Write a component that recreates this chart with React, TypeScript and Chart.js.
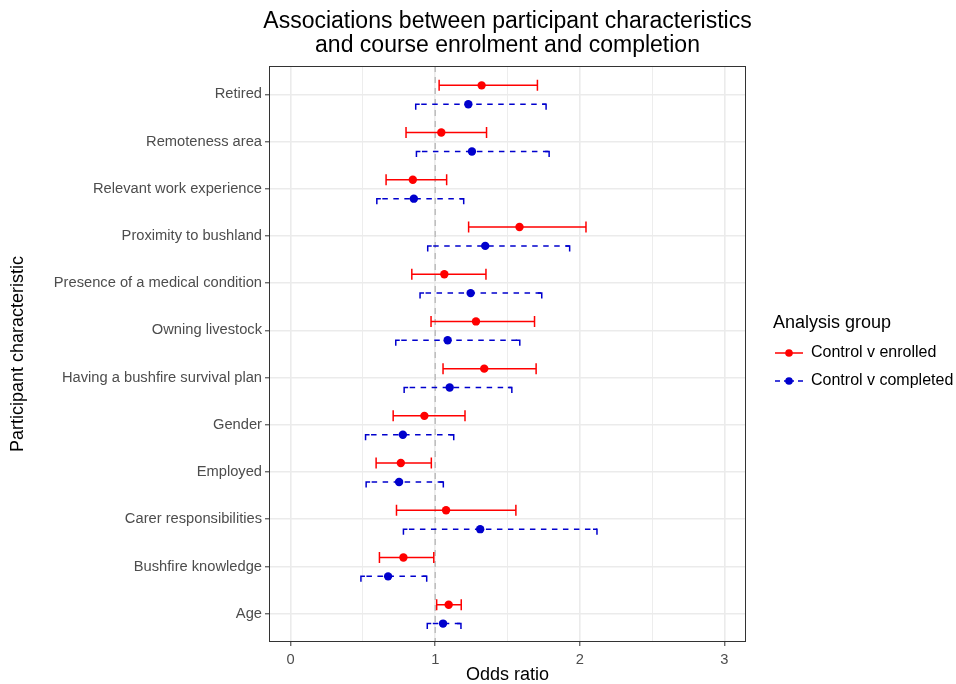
import React, { useEffect, useRef } from "react";
import { Chart, registerables } from "chart.js";
Chart.register(...registerables);

const categories = [
  "Age",
  "Bushfire knowledge",
  "Carer responsibilities",
  "Employed",
  "Gender",
  "Having a bushfire survival plan",
  "Owning livestock",
  "Presence of a medical condition",
  "Proximity to bushland",
  "Relevant work experience",
  "Remoteness area",
  "Retired",
];

const enrolledOR = [1.093, 0.78, 1.075, 0.762, 0.925, 1.339, 1.282, 1.063, 1.583, 0.845, 1.042, 1.321];
const enrolledLower = [1.01, 0.614, 0.732, 0.591, 0.709, 1.054, 0.971, 0.838, 1.231, 0.66, 0.798, 1.027];
const enrolledUpper = [1.18, 0.99, 1.558, 0.973, 1.206, 1.698, 1.687, 1.351, 2.043, 1.079, 1.355, 1.707];

const completedOR = [1.054, 0.674, 1.311, 0.75, 0.776, 1.1, 1.086, 1.245, 1.346, 0.852, 1.254, 1.229];
const completedLower = [0.945, 0.486, 0.78, 0.522, 0.518, 0.785, 0.727, 0.895, 0.948, 0.596, 0.87, 0.865];
const completedUpper = [1.178, 0.941, 2.119, 1.056, 1.128, 1.53, 1.585, 1.737, 1.93, 1.197, 1.788, 1.767];

const xTicks = [0, 0.5, 1, 1.5, 2, 2.5, 3];
const seriesNames = ["Control v enrolled", "Control v completed"];
const titleLines = ["Associations between participant characteristics", "and course enrolment and completion"];
const legendTitle = "Analysis group";
const xTitle = "Odds ratio";
const yTitle = "Participant characteristic";
const referenceValue = 1;

const FONT = "'Liberation Sans', Arial, sans-serif";
const RED = "#FF0000";
const BLUE = "#0000CD";
const OFFSETS = [0.19, -0.21];

const series = [
  { name: seriesNames[0], est: enrolledOR, lo: enrolledLower, hi: enrolledUpper, color: RED, dashed: false, offset: OFFSETS[0] },
  { name: seriesNames[1], est: completedOR, lo: completedLower, hi: completedUpper, color: BLUE, dashed: true, offset: OFFSETS[1] },
];

const forestPlugin = {
  id: "forest",
  beforeDatasetsDraw(chart: any) {
    const { ctx, chartArea, scales } = chart;
    const xs = scales.x;
    const ys = scales.y;
    ctx.save();
    ctx.beginPath();
    ctx.rect(chartArea.left, chartArea.top, chartArea.right - chartArea.left, chartArea.bottom - chartArea.top);
    ctx.clip();
    // reference line
    const xr = xs.getPixelForValue(referenceValue);
    ctx.strokeStyle = "#BEBEBE";
    ctx.lineWidth = 1.5;
    ctx.setLineDash([6, 5]);
    ctx.beginPath();
    ctx.moveTo(xr, chartArea.top);
    ctx.lineTo(xr, chartArea.bottom);
    ctx.stroke();
    // error bars
    series.forEach((s) => {
      ctx.strokeStyle = s.color;
      ctx.lineWidth = 1.5;
      categories.forEach((_, j) => {
        const y = ys.getPixelForValue(j + 1 + s.offset);
        const xl = xs.getPixelForValue(s.lo[j]);
        const xh = xs.getPixelForValue(s.hi[j]);
        if (!s.dashed) {
          ctx.setLineDash([]);
          ctx.beginPath();
          ctx.moveTo(xl, y);
          ctx.lineTo(xh, y);
          ctx.moveTo(xl, y - 5.5);
          ctx.lineTo(xl, y + 5.5);
          ctx.moveTo(xh, y - 5.5);
          ctx.lineTo(xh, y + 5.5);
          ctx.stroke();
        } else {
          ctx.setLineDash([5.5, 5.5]);
          ctx.lineDashOffset = -5.5;
          ctx.beginPath();
          ctx.moveTo(xl, y);
          ctx.lineTo(xh, y);
          ctx.stroke();
          ctx.setLineDash([]);
          ctx.lineDashOffset = 0;
          ctx.beginPath();
          ctx.moveTo(xl + 4, y);
          ctx.lineTo(xl, y);
          ctx.lineTo(xl, y + 5.5);
          ctx.moveTo(xh - 4, y);
          ctx.lineTo(xh, y);
          ctx.lineTo(xh, y + 5.5);
          ctx.stroke();
        }
      });
    });
    ctx.restore();
  },
  afterDraw(chart: any) {
    const { ctx, chartArea } = chart;
    ctx.save();
    // panel border
    ctx.strokeStyle = "#333333";
    ctx.lineWidth = 1;
    ctx.setLineDash([]);
    ctx.strokeRect(chartArea.left + 0.5, chartArea.top + 0.5, chartArea.right - chartArea.left - 1, chartArea.bottom - chartArea.top - 1);
    // title
    const cx = (chartArea.left + chartArea.right) / 2;
    ctx.fillStyle = "#000000";
    ctx.font = `23px ${FONT}`;
    ctx.textAlign = "center";
    ctx.textBaseline = "middle";
    ctx.fillText(titleLines[0], cx, 22);
    ctx.fillText(titleLines[1], cx, 46);
    // legend
    ctx.textAlign = "left";
    ctx.font = `18px ${FONT}`;
    ctx.fillText(legendTitle, 773, 323);
    ctx.font = `16px ${FONT}`;
    series.forEach((s, i) => {
      const y = 353 + i * 28;
      ctx.strokeStyle = s.color;
      ctx.fillStyle = s.color;
      ctx.lineWidth = 1.5;
      if (s.dashed) {
        ctx.beginPath();
        ctx.moveTo(775, y);
        ctx.lineTo(780, y);
        ctx.moveTo(784, y);
        ctx.lineTo(794, y);
        ctx.moveTo(798, y);
        ctx.lineTo(803, y);
        ctx.stroke();
      } else {
        ctx.beginPath();
        ctx.moveTo(775, y);
        ctx.lineTo(803, y);
        ctx.stroke();
      }
      ctx.beginPath();
      ctx.arc(789, y, 3.8, 0, Math.PI * 2);
      ctx.fill();
      ctx.fillStyle = "#000000";
      ctx.fillText(s.name, 811, y);
    });
    ctx.restore();
  },
};

export default function App() {
  const ref = useRef<HTMLCanvasElement>(null);
  useEffect(() => {
    if (!ref.current) return;
    const chart = new Chart(ref.current, {
      type: "scatter",
      data: {
        datasets: series.map((s) => ({
          label: s.name,
          data: categories.map((_, j) => ({ x: s.est[j], y: j + 1 + s.offset })),
          backgroundColor: s.color,
          borderColor: s.color,
          pointRadius: 4.2,
          pointBorderWidth: 0,
          pointHoverRadius: 4.2,
        })),
      },
      options: {
        responsive: false,
        animation: false,
        events: [],
        layout: { padding: { top: 66, right: 210, left: 0, bottom: 0 } },
        plugins: { legend: { display: false }, tooltip: { enabled: false }, title: { display: false } },
        scales: {
          x: {
            type: "linear",
            min: -0.15,
            max: 3.15,
            afterBuildTicks: (scale: any) => {
              scale.ticks = xTicks.map((v) => ({ value: v }));
            },
            afterFit: (scale: any) => {
              scale.height = 42;
            },
            ticks: {
              autoSkip: false,
              maxRotation: 0,
              padding: 5,
              color: "#4D4D4D",
              font: { family: FONT, size: 14.7 },
              callback: (v: any) => (Number.isInteger(v) ? String(v) : ""),
            },
            grid: {
              color: "#EBEBEB",
              lineWidth: (c: any) => (c.tick && Number.isInteger(c.tick.value) ? 1.6 : 0.9),
              tickColor: (c: any) => (c.tick && Number.isInteger(c.tick.value) ? "#333333" : "rgba(0,0,0,0)"),
              tickLength: 4,
              tickWidth: 1,
            },
            border: { display: false },
            title: {
              display: true,
              text: xTitle,
              color: "#000000",
              font: { family: FONT, size: 18, lineHeight: 1 },
              padding: { top: 0, bottom: 0 },
            },
          },
          y: {
            type: "linear",
            min: 0.4,
            max: 12.6,
            afterBuildTicks: (scale: any) => {
              scale.ticks = categories.map((_, i) => ({ value: i + 1 }));
            },
            afterFit: (scale: any) => {
              scale.width = 269;
            },
            ticks: {
              autoSkip: false,
              padding: 3,
              color: "#4D4D4D",
              font: { family: FONT, size: 14.7 },
              callback: (v: any) => categories[Math.round(v) - 1] ?? "",
            },
            grid: {
              color: "#EBEBEB",
              lineWidth: 1.6,
              tickColor: "#333333",
              tickLength: 4,
              tickWidth: 1,
            },
            border: { display: false },
            title: {
              display: true,
              text: yTitle,
              color: "#000000",
              font: { family: FONT, size: 18, lineHeight: 1.2 },
              padding: { top: 7, bottom: 0 },
            },
          },
        },
      },
      plugins: [forestPlugin],
    });
    return () => chart.destroy();
  }, []);
  return (
    <div style={{ position: "fixed", left: 0, top: 0, width: 956, height: 684, background: "#ffffff" }}>
      <canvas ref={ref} width={956} height={684} style={{ display: "block" }} />
    </div>
  );
}
